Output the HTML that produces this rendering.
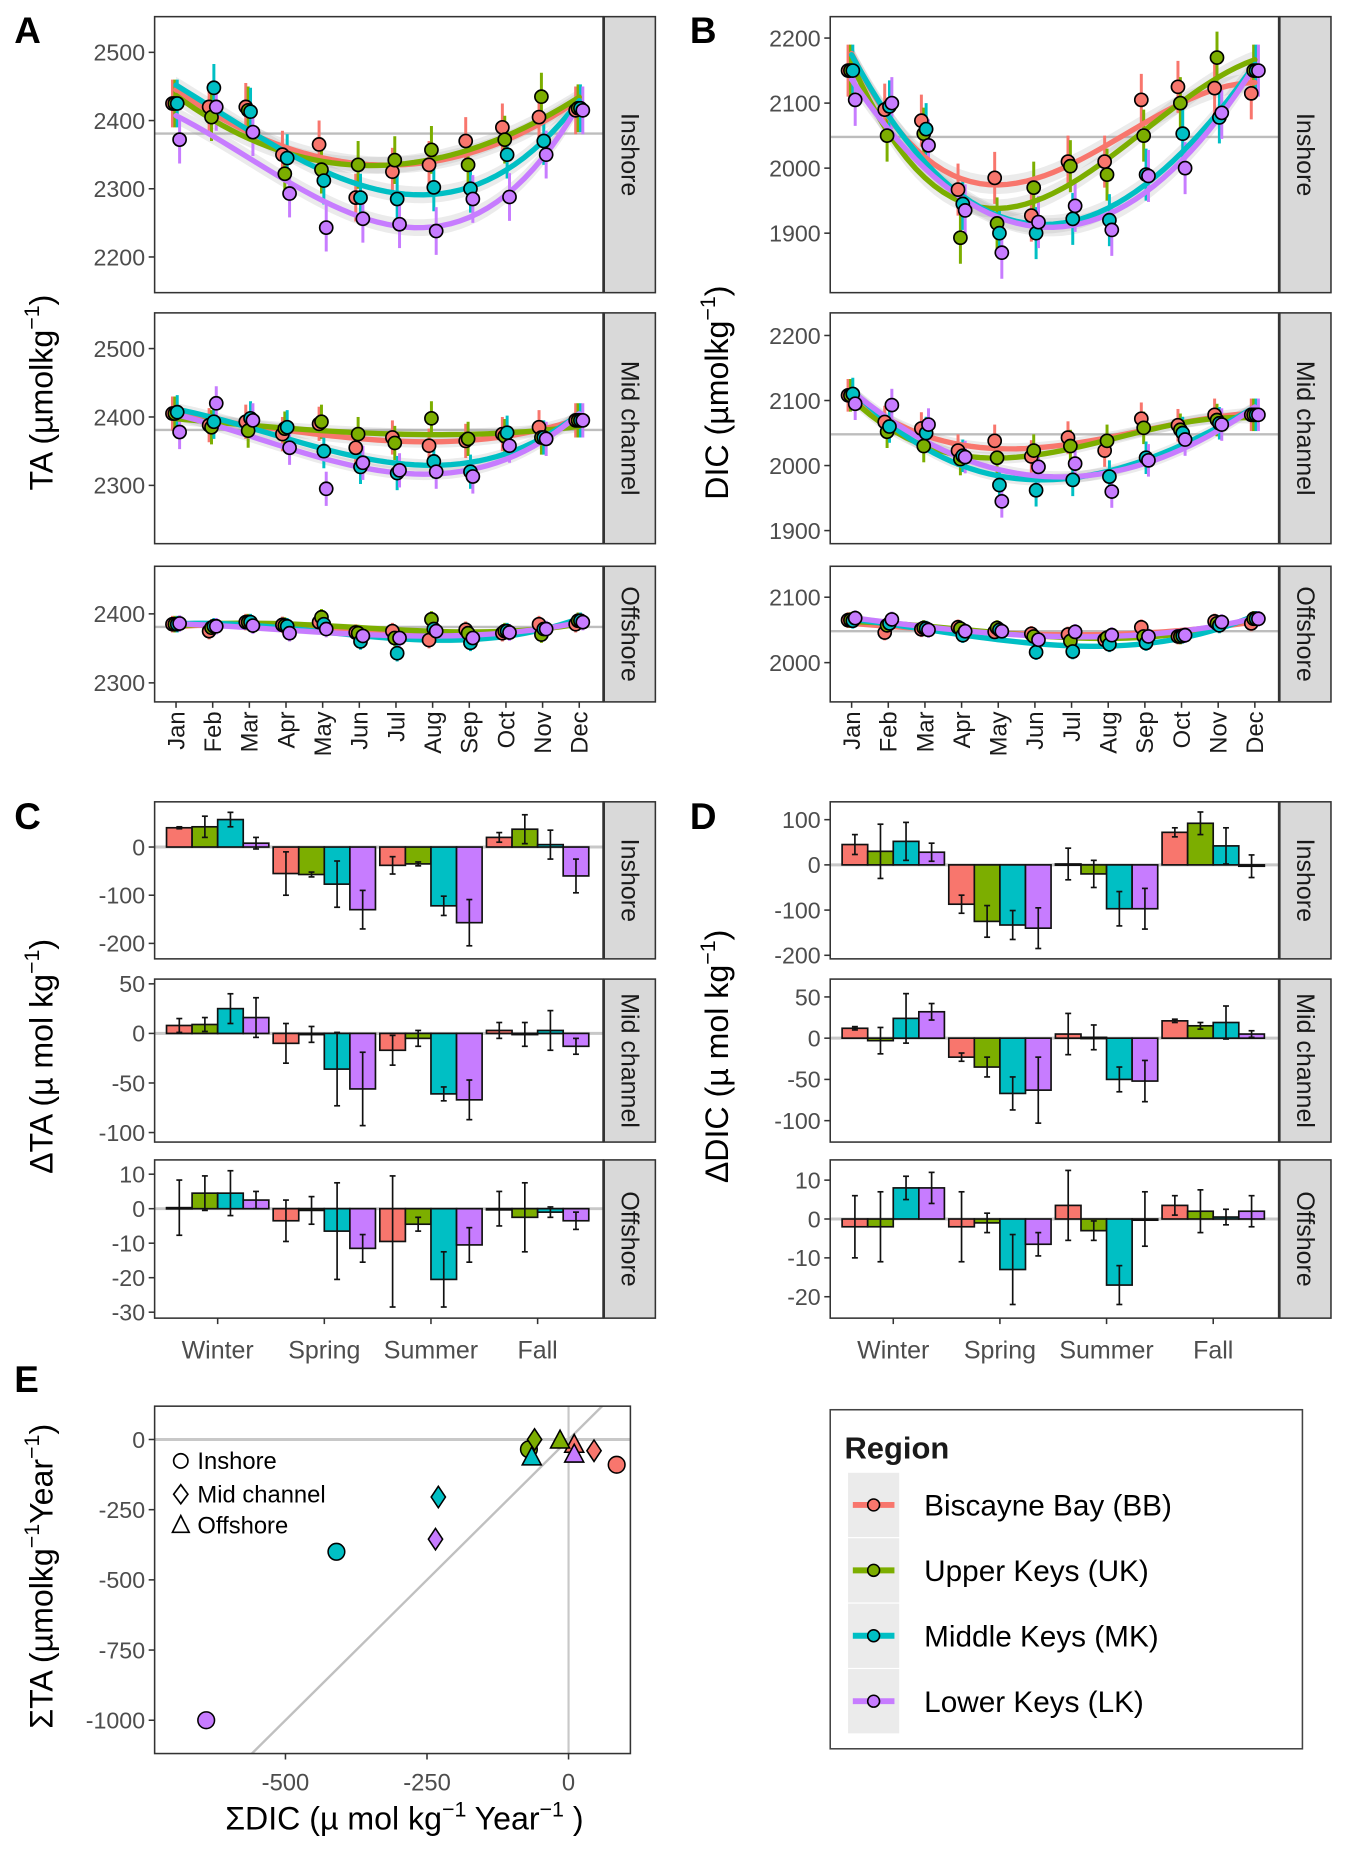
<!DOCTYPE html>
<html><head><meta charset="utf-8">
<style>
html,body{margin:0;padding:0;background:#fff;}
svg{display:block;}
text{font-family:"Liberation Sans",Arial,sans-serif;}
</style></head>
<body>
<svg id="fig" xmlns="http://www.w3.org/2000/svg" width="1350" height="1863" viewBox="0 0 1135 1566" preserveAspectRatio="none"></svg>
<script>
// ---------- DATA ----------
const regions = ["Biscayne Bay (BB)","Upper Keys (UK)","Middle Keys (MK)","Lower Keys (LK)"];
const regionCodes = ["bb","uk","mk","lk"];
const months = ["Jan","Feb","Mar","Apr","May","Jun","Jul","Aug","Sep","Oct","Nov","Dec"];
const facets = ["Inshore","Mid channel","Offshore"];
const seasons = ["Winter","Spring","Summer","Fall"];

// Panel A: TA by facet [BB, UK, MK, LK]
const taInshore = [
 [2425,2420,2420,2350,2365,2287,2325,2335,2370,2390,2405,2415],
 [2425,2405,2415,2322,2328,2335,2342,2357,2335,2372,2435,2418],
 [2425,2448,2413,2345,2312,2287,2285,2302,2300,2350,2370,2418],
 [2372,2420,2383,2293,2243,2256,2248,2238,2285,2288,2350,2415]];
const taMid = [
 [2405,2388,2393,2375,2390,2355,2370,2358,2365,2375,2385,2395],
 [2405,2385,2380,2383,2393,2375,2362,2398,2368,2372,2370,2395],
 [2407,2393,2398,2385,2350,2327,2318,2335,2320,2377,2370,2395],
 [2378,2420,2395,2355,2295,2333,2322,2320,2313,2358,2368,2395]];
const taOff = [
 [2385,2375,2388,2384,2388,2373,2375,2362,2377,2372,2385,2385],
 [2385,2380,2388,2383,2395,2372,2365,2392,2372,2375,2370,2390],
 [2385,2382,2388,2382,2385,2360,2343,2378,2358,2375,2378,2390],
 [2386,2382,2383,2372,2378,2368,2365,2375,2365,2373,2378,2388]];
const taErr = [35,25,12];
// Panel B: DIC
const dicInshore = [
 [2150,2090,2073,1967,1985,1927,2010,2010,2105,2125,2123,2115],
 [2150,2050,2053,1893,1915,1970,2003,1990,2050,2100,2170,2150],
 [2150,2095,2060,1945,1900,1900,1922,1920,1990,2053,2078,2150],
 [2105,2100,2035,1935,1870,1917,1942,1905,1988,2000,2085,2150]];
const dicMid = [
 [2108,2067,2057,2023,2038,2014,2043,2023,2072,2062,2078,2078],
 [2108,2052,2030,2010,2012,2023,2030,2038,2058,2055,2070,2078],
 [2110,2060,2050,2015,1970,1962,1978,1983,2012,2050,2065,2078],
 [2095,2093,2063,2013,1945,1998,2003,1960,2008,2040,2063,2078]];
const dicOff = [
 [2065,2046,2051,2054,2047,2044,2043,2035,2054,2040,2063,2060],
 [2065,2057,2053,2052,2053,2040,2033,2038,2040,2040,2060,2067],
 [2064,2060,2052,2042,2050,2016,2017,2028,2030,2041,2057,2067],
 [2068,2066,2050,2048,2048,2035,2047,2042,2040,2042,2062,2067]];
const dicErr = [40,25,12];

// Panel C: ΔTA [region][season]
const dtaInshore = [[40,-55,-38,20],[42,-57,-35,37],[57,-77,-122,5],[8,-130,-157,-60]];
const dtaInshoreErr = [[2,45,18,10],[22,5,4,30],[15,48,20,30],[12,40,48,35]];
const dtaMid = [[8,-10,-17,3],[9,-1,-5,-1],[25,-36,-61,3],[16,-56,-67,-13]];
const dtaMidErr = [[7,20,15,8],[7,8,8,12],[15,37,7,20],[20,37,20,8]];
const dtaOff = [[0.3,-3.5,-9.5,0],[4.5,-0.5,-4.5,-2.5],[4.5,-6.5,-20.5,-1],[2.5,-11.5,-10.5,-3.5]];
const dtaOffErr = [[8,6,19,5],[5,4,2,10],[6.5,14,8,1.5],[2.5,4,5,2.5]];
// Panel D: ΔDIC
const ddicInshore = [[45,-87,2,72],[30,-125,-20,92],[52,-133,-97,42],[28,-140,-97,-3]];
const ddicInshoreErr = [[22,20,35,10],[60,35,30,25],[42,32,38,40],[20,45,45,25]];
const ddicMid = [[12,-23,5,21],[-3,-35,1,15],[24,-67,-50,19],[32,-63,-52,5]];
const ddicMidErr = [[2,5,25,2],[16,12,15,4],[30,20,15,20],[10,40,25,4]];
const ddicOff = [[-2,-2,3.5,3.5],[-2,-1,-3,2],[8,-13,-17,0.5],[8,-6.5,0,2]];
const ddicOffErr = [[8,9,9,2.5],[9,2.5,2.5,5.5],[3,9,5,2],[4,3,7,4]];

// Panel E: annual sums [region][facet]
const sumDIC = [[85,45,10],[-70,-60,-15],[-410,-230,-65],[-640,-235,10]];
const sumTA  = [[-90,-40,-20],[-35,0,-5],[-400,-205,-65],[-1000,-355,-55]];

const colors = ["#F8766D","#7CAE00","#00BFC4","#C77CFF"];

// ---------- HELPERS ----------
const NS="http://www.w3.org/2000/svg";
const svg=document.getElementById("fig");
function el(tag,attrs,parent){const e=document.createElementNS(NS,tag);for(const k in attrs)e.setAttribute(k,attrs[k]);(parent||svg).appendChild(e);return e;}
function txt(s,attrs,parent){const e=el("text",attrs,parent);e.textContent=s;return e;}
function lin(d0,d1,r0,r1){return v=>r0+(v-d0)*(r1-r0)/(d1-d0);}
function cubicFit(xs,ys){
  const n=4;const A=[];for(let i=0;i<n;i++){A.push(new Array(n+1).fill(0));}
  for(let k=0;k<xs.length;k++){const p=[1,xs[k],xs[k]**2,xs[k]**3];
    for(let i=0;i<n;i++){for(let j=0;j<n;j++)A[i][j]+=p[i]*p[j];A[i][n]+=p[i]*ys[k];}}
  for(let i=0;i<n;i++){let m=i;for(let r=i+1;r<n;r++)if(Math.abs(A[r][i])>Math.abs(A[m][i]))m=r;const tmp=A[i];A[i]=A[m];A[m]=tmp;
    for(let r=0;r<n;r++){if(r===i)continue;const f=A[r][i]/A[i][i];for(let c=i;c<=n;c++)A[r][c]-=f*A[i][c];}}
  const c=A.map((row,i)=>row[n]/row[i]);
  return x=>c[0]+c[1]*x+c[2]*x*x+c[3]*x*x*x;
}
function frame(x0,y0,x1,y1,name,label){
  el("rect",{x:x0,y:y0,width:x1-x0,height:y1-y0,fill:"none",stroke:"#333",'stroke-width':1.3,});
  const sx=x1+1, sw=43;
  const g=el("g",{});
  el("rect",{x:sx,y:y0,width:sw,height:y1-y0,fill:"#d9d9d9",stroke:"#333",'stroke-width':1.3},g);
  txt(label,{x:sx+sw/2-7,y:(y0+y1)/2,'font-size':21,fill:"#1a1a1a",'text-anchor':'middle',transform:`rotate(90 ${sx+sw/2-7} ${(y0+y1)/2})`},g);
}
function yTicks(x0,sy,ticks,name){
  const g=el("g",{});
  ticks.forEach(t=>{const y=sy(t);el("line",{x1:x0-5,x2:x0,y1:y,y2:y,stroke:"#333",'stroke-width':1.3},g);
    txt(String(t),{x:x0-8,y:y+7,'font-size':19.5,fill:"#4d4d4d",'text-anchor':'end'},g);});
}

// ---------- LINE PANELS (A, B) ----------
const linePanels=[
 {id:"a",x0:130,x1:507,data:[taInshore,taMid,taOff],err:taErr,ref:2381,
  facetsY:[[14,246,2500,44,2200,216,[2200,2300,2400,2500]],[263,457,2500,293,2300,408,[2300,2400,2500]],[476,590,2400,516,2300,574,[2300,2400]]]},
 {id:"b",x0:698,x1:1075,data:[dicInshore,dicMid,dicOff],err:dicErr,ref:2048,
  facetsY:[[14,246,2200,32,1900,196,[1900,2000,2100,2200]],[263,457,2200,282,1900,446,[1900,2000,2100,2200]],[476,590,2100,502,2000,557,[2000,2100]]]}
];
linePanels.forEach(P=>{
  const sx=lin(0,11,P.x0+18,P.x1-20);
  P.facetsY.forEach((F,fi)=>{
    const [y0,y1,v0,p0,v1,p1,ticks]=F; const sy=lin(v0,v1,p0,p1);
    const name=`panel-${P.id}-${facets[fi].toLowerCase().replace(' ','-')}`;
    const g=el("g",{});
    const cp=el("clipPath",{id:"cp"+name},g);el("rect",{x:P.x0,y:y0,width:P.x1-P.x0,height:y1-y0},cp);
    const inner=el("g",{'clip-path':`url(#cp${name})`},g);
    el("line",{x1:P.x0,x2:P.x1,y1:sy(P.ref),y2:sy(P.ref),stroke:"#bdbdbd",'stroke-width':2,},inner);
    const data=P.data[fi]; const e=P.err[fi];
    const fits=data.map(ys=>cubicFit(months.map((_,i)=>i),ys));
    fits.forEach((f,r)=>{
      let up=[],dn=[];for(let t=0;t<=11;t+=0.25){up.push(`${sx(t)},${sy(f(t)+e*0.35)}`);dn.unshift(`${sx(t)},${sy(f(t)-e*0.35)}`);}
      const rb=el("polygon",{points:up.concat(dn).join(" "),fill:"#999",opacity:0.2},inner);
      
      
    });
    data.forEach((ys,r)=>{ys.forEach((v,i)=>{const x=sx(i)+(r-1.5)*2;
      const l=el("line",{x1:x,x2:x,y1:sy(v-e),y2:sy(v+e),stroke:colors[r],'stroke-width':2.5},inner);
      
      });});
    fits.forEach((f,r)=>{let pts=[];for(let t=0;t<=11;t+=0.25)pts.push(`${sx(t)},${sy(f(t))}`);
      const pl=el("polyline",{points:pts.join(" "),fill:"none",stroke:colors[r],'stroke-width':4.5,'stroke-linecap':'round'},inner);
      
      });
    data.forEach((ys,r)=>{ys.forEach((v,i)=>{
      const c=el("circle",{cx:sx(i)+(r-1.5)*2,cy:sy(v),r:5.5,fill:colors[r],stroke:"#000",'stroke-width':1.4},inner);
      
      });});
    frame(P.x0,y0,P.x1,y1,name,facets[fi]);
    yTicks(P.x0,sy,ticks,name);
  });
  const gx=el("g",{});
  months.forEach((m,i)=>{const x=sx(i);el("line",{x1:x,x2:x,y1:590,y2:595,stroke:"#333",'stroke-width':1.3},gx);
    txt(m,{x:x+7,y:598,'font-size':20,fill:"#1a1a1a",'text-anchor':'end',transform:`rotate(-90 ${x+7} 598)`},gx);});
});

// ---------- BAR PANELS (C, D) ----------
const barPanels=[
 {id:"c",x0:130,x1:507,data:[[dtaInshore,dtaInshoreErr],[dtaMid,dtaMidErr],[dtaOff,dtaOffErr]],
  facetsY:[[674,806,0,712,-200,793,[-200,-100,0]],[823,960,50,827,-100,952,[-100,-50,0,50]],[975,1108,10,987,-30,1103,[-30,-20,-10,0,10]]]},
 {id:"d",x0:698,x1:1075,data:[[ddicInshore,ddicInshoreErr],[ddicMid,ddicMidErr],[ddicOff,ddicOffErr]],
  facetsY:[[674,806,100,689,-200,803,[-200,-100,0,100]],[823,960,50,838,-100,942,[-100,-50,0,50]],[975,1108,10,992,-20,1090,[-20,-10,0,10]]]}
];
barPanels.forEach(P=>{
  const sx=lin(0,3,P.x0+53,P.x1-55); const bw=21.5;
  P.facetsY.forEach((F,fi)=>{
    const [y0,y1,v0,p0,v1,p1,ticks]=F; const sy=lin(v0,v1,p0,p1);
    const name=`panel-${P.id}-${facets[fi].toLowerCase().replace(' ','-')}`;
    const g=el("g",{});
    el("line",{x1:P.x0,x2:P.x1,y1:sy(0),y2:sy(0),stroke:"#c8c8c8",'stroke-width':2.5},g);
    const vals=P.data[fi][0], errs=P.data[fi][1];
    vals.forEach((row,r)=>row.forEach((v,s)=>{
      const x=sx(s)+(r-2)*bw; const ya=sy(Math.max(v,0)), yb=sy(Math.min(v,0));
      const b=el("rect",{x:x,y:ya,width:bw,height:Math.max(yb-ya,1),fill:colors[r],stroke:"#111",'stroke-width':1.4},g);
      
      
    }));
    vals.forEach((row,r)=>row.forEach((v,s)=>{
      const xc=sx(s)+(r-1.5)*bw; const ee=errs[r][s];
      const eg=el("g",{},g);
      
      
      el("line",{x1:xc,x2:xc,y1:sy(v-ee),y2:sy(v+ee),stroke:"#111",'stroke-width':1.4},eg);
      el("line",{x1:xc-2.5,x2:xc+2.5,y1:sy(v-ee),y2:sy(v-ee),stroke:"#111",'stroke-width':1.4},eg);
      el("line",{x1:xc-2.5,x2:xc+2.5,y1:sy(v+ee),y2:sy(v+ee),stroke:"#111",'stroke-width':1.4},eg);
    }));
    frame(P.x0,y0,P.x1,y1,name,facets[fi]);
    yTicks(P.x0,sy,ticks,name);
  });
  const gx=el("g",{});
  seasons.forEach((s,i)=>{const x=sx(i);el("line",{x1:x,x2:x,y1:1108,y2:1113,stroke:"#333",'stroke-width':1.3},gx);
    txt(s,{x:x,y:1142,'font-size':21,fill:"#4d4d4d",'text-anchor':'middle'},gx);});
});

// ---------- PANEL E ----------
(function(){
  const X0=130,X1=530,Y0=1182,Y1=1474;
  const sx=lin(0,-250,478,359), sy=lin(0,-250,1210,1269);
  const g=el("g",{});
  const cp=el("clipPath",{id:"cpE"},g);el("rect",{x:X0,y:Y0,width:X1-X0,height:Y1-Y0},cp);
  const inner=el("g",{'clip-path':'url(#cpE)'},g);
  el("line",{x1:X0,x2:X1,y1:sy(0),y2:sy(0),stroke:"#c8c8c8",'stroke-width':2.5,},inner);
  el("line",{x1:sx(0),x2:sx(0),y1:Y0,y2:Y1,stroke:"#c8c8c8",'stroke-width':1.8,},inner);
  el("line",{x1:sx(-600),y1:sy(-1200),x2:sx(100),y2:sy(200),stroke:"#c0c0c0",'stroke-width':2,},inner);
  const shapes=["circle","diamond","triangle"];
  sumDIC.forEach((row,r)=>row.forEach((d,f)=>{
    const x=sx(d),y=sy(sumTA[r][f]);let m;
    if(f===0)m=el("circle",{cx:x,cy:y,r:7,fill:colors[r],stroke:"#000",'stroke-width':1.3},inner);
    else if(f===1)m=el("polygon",{points:`${x},${y-9} ${x+6},${y} ${x},${y+9} ${x-6},${y}`,fill:colors[r],stroke:"#000",'stroke-width':1.3},inner);
    else m=el("polygon",{points:`${x},${y-9} ${x+8},${y+6} ${x-8},${y+6}`,fill:colors[r],stroke:"#000",'stroke-width':1.3},inner);
    
    
  }));
  el("rect",{x:X0,y:Y0,width:X1-X0,height:Y1-Y0,fill:"none",stroke:"#333",'stroke-width':1.3},g);
  yTicks(X0,sy,[-1000,-750,-500,-250,0],'panel-e');
  const gx=el("g",{});
  [-500,-250,0].forEach(t=>{const x=sx(t);el("line",{x1:x,x2:x,y1:Y1,y2:Y1+5,stroke:"#333",'stroke-width':1.3},gx);
    txt(String(t),{x:x,y:Y1+31,'font-size':20,fill:"#4d4d4d",'text-anchor':'middle'},gx);});
  const lg=el("g",{});
  el("circle",{cx:152,cy:1228,r:6,fill:"none",stroke:"#000",'stroke-width':1.4},lg);
  txt("Inshore",{x:166,y:1235,'font-size':20,fill:"#000"},lg);
  el("polygon",{points:"152,1248 158,1256 152,1264 146,1256",fill:"none",stroke:"#000",'stroke-width':1.4},lg);
  txt("Mid channel",{x:166,y:1263,'font-size':20,fill:"#000"},lg);
  el("polygon",{points:"152,1274 159,1288 145,1288",fill:"none",stroke:"#000",'stroke-width':1.4},lg);
  txt("Offshore",{x:166,y:1289,'font-size':20,fill:"#000"},lg);
})();

// ---------- TITLES & LABELS ----------
[["A",12,36],["B",580,36],["C",12,697],["D",580,697],["E",12,1170]].forEach(([s,x,y])=>{
  const t=txt(s,{x:x,y:y,'font-size':31,'font-weight':'bold',fill:"#000"});
  
  
});
function yTitle(x,y,main,sup,tail,name){
  const t=el("text",{x:x,y:y,'font-size':27,fill:"#000",'text-anchor':'middle',transform:`rotate(-90 ${x} ${y})`});
  
  
  t.appendChild(document.createTextNode(main));
  const s=el("tspan",{dy:-11,'font-size':18},t);s.textContent=sup;
  const s2=el("tspan",{dy:11},t);s2.textContent=tail;
  return t;
}
yTitle(44,330,"TA (µmolkg","−1",")","y-axis-title-ta");
yTitle(612,330,"DIC (µmolkg","−1",")","y-axis-title-dic");
yTitle(44,888,"ΔTA (µ mol kg","−1",")","y-axis-title-delta-ta");
yTitle(612,888,"ΔDIC (µ mol kg","−1",")","y-axis-title-delta-dic");
(function(){
  const x=44,y=1325;
  const t=el("text",{x:x,y:y,'font-size':27,fill:"#000",'text-anchor':'middle',transform:`rotate(-90 ${x} ${y})`});
  
  
  t.appendChild(document.createTextNode("ΣTA (µmolkg"));
  let s=el("tspan",{dy:-11,'font-size':18},t);s.textContent="−1";
  s=el("tspan",{dy:11},t);s.textContent="Year";
  s=el("tspan",{dy:-11,'font-size':18},t);s.textContent="−1";
  s=el("tspan",{dy:11},t);s.textContent=")";
  const t2=el("text",{x:340,y:1538,'font-size':27,fill:"#000",'text-anchor':'middle'});
  
  
  t2.appendChild(document.createTextNode("ΣDIC (µ mol kg"));
  s=el("tspan",{dy:-11,'font-size':18},t2);s.textContent="−1";
  s=el("tspan",{dy:11},t2);s.textContent=" Year";
  s=el("tspan",{dy:-11,'font-size':18},t2);s.textContent="−1";
  s=el("tspan",{dy:11},t2);s.textContent=" )";
})();

// ---------- REGION LEGEND ----------
(function(){
  const g=el("g",{});
  el("rect",{x:698,y:1185,width:397,height:285,fill:"#fff",stroke:"#444",'stroke-width':1.3},g);
  txt("Region",{x:710,y:1226,'font-size':26,'font-weight':'bold',fill:"#1a1a1a",'font-family':'"DejaVu Sans",sans-serif'},g);
  regions.forEach((rname,i)=>{
    const cy=1265+i*55;
    const eg=el("g",{},g);
    
    
    el("rect",{x:713,y:cy-27,width:43,height:54,fill:"#ebebeb"},eg);
    el("line",{x1:717,x2:752,y1:cy,y2:cy,stroke:colors[i],'stroke-width':5},eg);
    el("circle",{cx:734.5,cy:cy,r:5,fill:colors[i],stroke:"#000",'stroke-width':1.3},eg);
    txt(rname,{x:777,y:cy+9,'font-size':25,fill:"#000",'font-family':'"DejaVu Sans",sans-serif'},eg);
  });
})();
</script>
</body></html>
